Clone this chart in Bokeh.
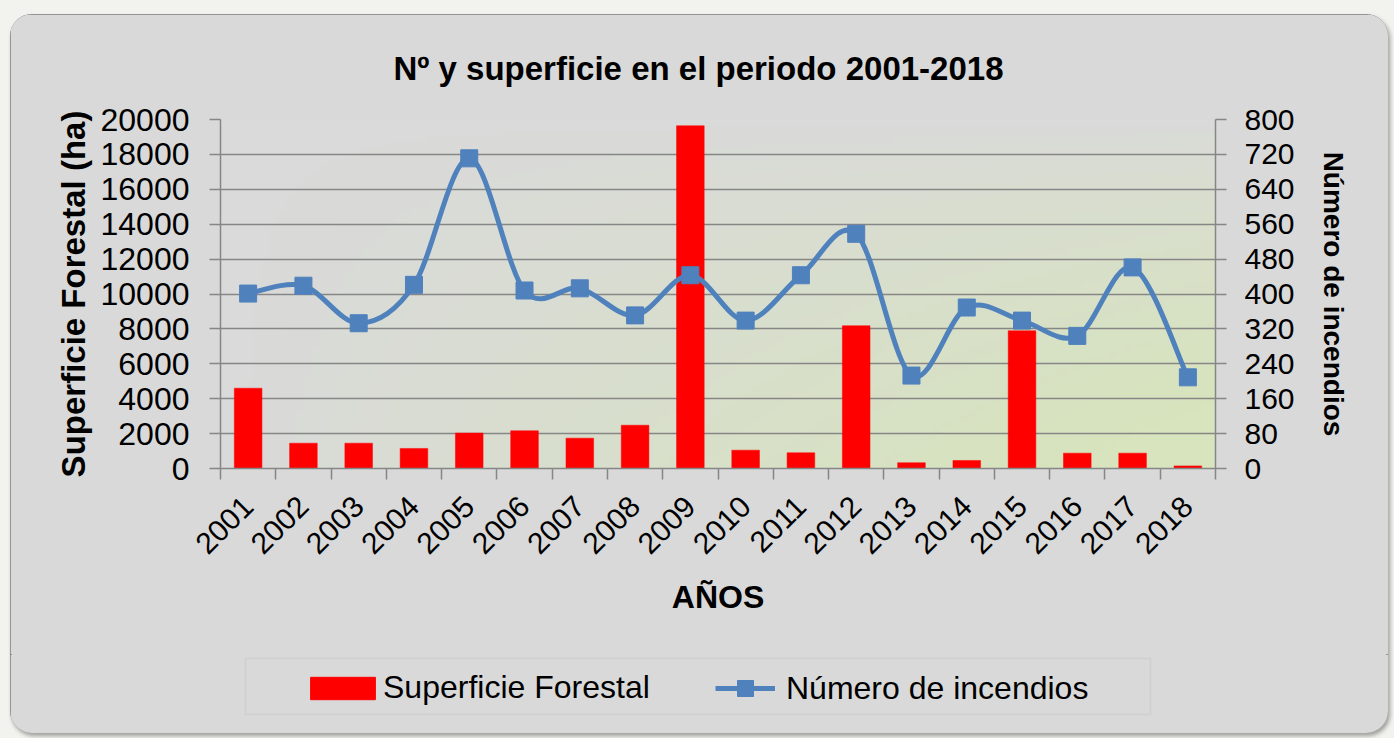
import math
import numpy as np
from bokeh.plotting import figure
from bokeh.layouts import column
from bokeh.models import (Range1d, LinearAxis, FixedTicker, Legend, LegendItem,
                          BoxAnnotation, GlobalInlineStyleSheet)
from bokeh.embed import file_html
from bokeh.resources import INLINE

# ---------------- data ----------------
years = [str(y) for y in range(2001, 2019)]
superficie = [4600, 1450, 1450, 1150, 2030, 2160, 1740, 2480, 19640,
              1050, 900, 8180, 330, 460, 7890, 880, 880, 150]
incendios = [401, 419, 333, 421, 711, 408, 413, 351, 443,
             339, 443, 538, 213, 369, 339, 304, 461, 209]
left_ticks = list(range(0, 20001, 2000))
right_ticks = list(range(0, 801, 80))
title_text = "Nº y superficie en el periodo 2001-2018"
left_label = "Superficie Forestal (ha)"
right_label = "Número de incendios"
x_label = "AÑOS"
series_names = ["Superficie Forestal", "Número de incendios"]

FONT = "Liberation Sans"
GRID = "#868686"
BLUE = "#4f81bd"
RED = "#ff0000"
PANEL = "#d9d9d9"

n = len(years)
xc = [i + 0.5 for i in range(n)]

p = figure(width=1378, height=640, output_backend="svg", toolbar_location=None,
           x_range=Range1d(0, n), y_range=Range1d(0, 20000),
           min_border_left=210, min_border_right=173, min_border_top=105,
           min_border_bottom=186, border_fill_color=PANEL,
           background_fill_color=PANEL, outline_line_color=None)
p.extra_y_ranges = {"n": Range1d(0, 800)}

# plot-area gradient (grey top-left -> light green bottom-right)
ny, nx = 60, 120
u = np.linspace(0, 1, nx)[None, :]
v = np.linspace(1, 0, ny)[:, None]
t = np.clip((u ** 0.9) * (v ** 0.7) * 1.15, 0, 1)
c0 = np.array([218, 218, 218])
c1 = np.array([215, 228, 189])
rgb = (c0[None, None, :] * (1 - t[..., None]) + c1[None, None, :] * t[..., None]).astype(np.uint32)
img = (255 << 24) | (rgb[..., 2] << 16) | (rgb[..., 1] << 8) | rgb[..., 0]
p.image_rgba(image=[img.astype(np.uint32)], x=0, y=0, dw=n, dh=20000, level="image")

# grid
p.xgrid.visible = False
p.ygrid.ticker = FixedTicker(ticks=left_ticks)
p.ygrid.grid_line_color = GRID
p.ygrid.grid_line_width = 1.5

# bars
p.vbar(x=xc, top=superficie, width=0.5, fill_color=RED, line_color=RED, line_width=0.5)

# smoothed line (Bezier segments through the data points)
P = list(zip(xc, incendios))
x0s, y0s, x1s, y1s, cx0s, cy0s, cx1s, cy1s = [], [], [], [], [], [], [], []
for i in range(n - 1):
    pm = P[i - 1] if i > 0 else P[i]
    p0 = P[i]
    p1 = P[i + 1]
    p2_ = P[i + 2] if i + 2 < n else P[i + 1]
    x0s.append(p0[0]); y0s.append(p0[1]); x1s.append(p1[0]); y1s.append(p1[1])
    cx0s.append(p0[0] + (p1[0] - pm[0]) / 6); cy0s.append(p0[1] + (p1[1] - pm[1]) / 6)
    cx1s.append(p1[0] - (p2_[0] - p0[0]) / 6); cy1s.append(p1[1] - (p2_[1] - p0[1]) / 6)
p.bezier(x0=x0s, y0=y0s, x1=x1s, y1=y1s, cx0=cx0s, cy0=cy0s, cx1=cx1s, cy1=cy1s,
         line_color=BLUE, line_width=5, line_cap="round", y_range_name="n")
p.scatter(x=xc, y=incendios, marker="square", size=17, fill_color=BLUE,
          line_color=BLUE, y_range_name="n")

# axes
xa = p.xaxis[0]
xa.ticker = FixedTicker(ticks=xc, minor_ticks=list(range(n + 1)))
xa.major_label_overrides = {xc[i]: years[i] for i in range(n)}
xa.major_tick_line_color = None
xa.minor_tick_line_color = GRID
xa.minor_tick_line_width = 1.5
xa.minor_tick_out = 11
xa.minor_tick_in = 0
xa.major_label_orientation = math.pi / 4
xa.major_label_standoff = 22
xa.axis_label = x_label
xa.axis_label_standoff = 13

ya = p.yaxis[0]
ya.ticker = FixedTicker(ticks=left_ticks)
ya.axis_label = left_label
ya.major_label_standoff = 20
ya.axis_label_standoff = 6

ra = LinearAxis(y_range_name="n", ticker=FixedTicker(ticks=right_ticks),
                axis_label=right_label)
ra.major_label_standoff = 18
ra.axis_label_standoff = 20
p.add_layout(ra, "right")

for ax in [xa, ya, ra]:
    ax.axis_line_color = GRID
    ax.axis_line_width = 1.5
    ax.major_label_text_font = FONT
    ax.major_label_text_color = "#000000"
    ax.axis_label_text_font = FONT
    ax.axis_label_text_font_style = "bold"
    ax.axis_label_text_color = "#000000"
for ax in [ya, ra]:
    ax.major_tick_line_color = GRID
    ax.major_tick_line_width = 1.5
    ax.major_tick_out = 11
    ax.major_tick_in = 0
    ax.minor_tick_line_color = None
xa.major_label_text_font_size = "30px"
ya.major_label_text_font_size = "32px"
ra.major_label_text_font_size = "30px"
xa.axis_label_text_font_size = "32px"
ya.axis_label_text_font_size = "33px"
ra.axis_label_text_font_size = "28px"

# title
p.title.text = title_text
p.title.align = "left"
p.title.offset = 173
p.title.standoff = 66
p.title.text_font = FONT
p.title.text_font_size = "33px"
p.title.text_font_style = "bold"
p.title.text_color = "#000000"

# ---------------- legend strip ----------------
p2 = figure(width=1378, height=79, output_backend="svg", toolbar_location=None,
            x_range=Range1d(0, 1), y_range=Range1d(0, 1),
            x_axis_location=None, y_axis_location=None,
            min_border_left=210, min_border_right=173, min_border_top=2,
            min_border_bottom=17, border_fill_color=PANEL,
            background_fill_color=PANEL, outline_line_color=None)
p2.grid.visible = False
box = BoxAnnotation(left=25, right=930, bottom=2, top=58,
                    left_units="screen", right_units="screen",
                    top_units="screen", bottom_units="screen",
                    fill_alpha=0, line_color="#bdbdbd", line_width=1.5)
p2.add_layout(box)
# legend proxies (hidden; they only supply the legend swatches)
bar_leg = p2.vbar(x=[-5], top=[-4], bottom=[-5], width=0.5, fill_color=RED,
                  line_color=RED, visible=False)
line_leg = p2.line(x=[-5, -4], y=[-5, -5], line_color=BLUE, line_width=5, visible=False)
pt_leg = p2.scatter(x=[-5], y=[-5], marker="square", fill_color=BLUE,
                    line_color=BLUE, visible=False)

leg1 = Legend(items=[LegendItem(label=series_names[0], renderers=[bar_leg])],
              location=(82, 10), orientation="horizontal", glyph_width=81,
              glyph_height=28, label_standoff=0, padding=0, margin=0,
              border_line_color=None, background_fill_alpha=0,
              label_text_font=FONT, label_text_font_size="32px",
              label_text_color="#000000", inactive_fill_alpha=0)
leg2 = Legend(items=[LegendItem(label=series_names[1], renderers=[line_leg, pt_leg])],
              location=(495, 8), orientation="horizontal", glyph_width=60,
              glyph_height=40, label_standoff=11, padding=0, margin=0,
              border_line_color=None, background_fill_alpha=0,
              label_text_font=FONT, label_text_font_size="32px",
              label_text_color="#000000", inactive_fill_alpha=0)
p2.add_layout(leg1)
p2.add_layout(leg2)

lay = column(p, p2, spacing=0)
lay.styles = {"border-radius": "22px", "overflow": "hidden",
              "outline": "2px solid #7f7f7f", "outline-offset": "-2px",
              "box-shadow": "2px 3px 4px rgba(0,0,0,0.35)",
              "background-color": PANEL}
lay.stylesheets = [GlobalInlineStyleSheet(
    css="body { background: #f2f2ee; padding: 14px 0 0 10px !important; }")]

open("out.html", "w").write(file_html(lay, INLINE))
